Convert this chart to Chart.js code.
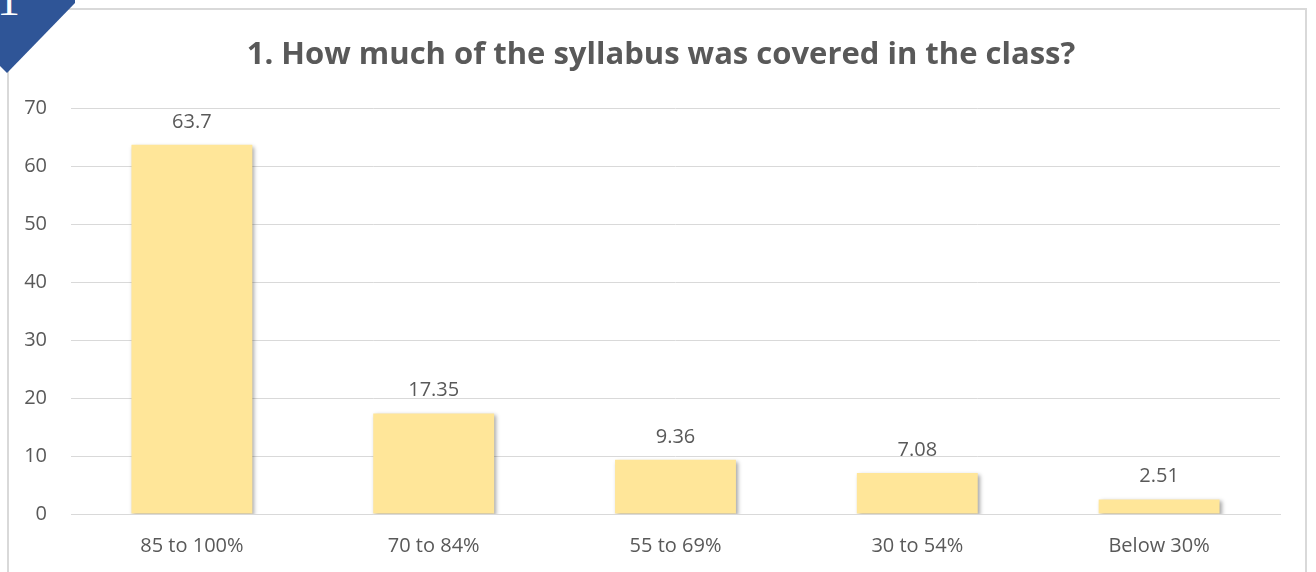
<!DOCTYPE html>
<html>
<head>
<meta charset="utf-8">
<script src="https://cdn.jsdelivr.net/npm/chart.js@4.4.1/dist/chart.umd.min.js"></script>
<style>
  html, body { margin: 0; padding: 0; background: #fff; }
  #wrap { position: relative; width: 1316px; height: 572px; overflow: hidden; }
  #frame { position: absolute; left: 7px; top: 8px; width: 1300px; height: 620px; border: 2px solid #d9d9d9; box-sizing: border-box; }
  #badge { position: absolute; left: 0; top: 0; width: 76px; height: 76px; background: #2f5597;
    clip-path: polygon(0 0, 75px 0, 75px 3px, 7px 73px, 0 66px); overflow: hidden; }
  #badge span { position: absolute; left: -3px; top: -23px; font: 46px/1 "Liberation Serif", serif; color: #fff; }
  canvas { position: absolute; left: 0; top: 0; }
</style>
</head>
<body>
<div id="wrap">
  <div id="frame"></div>
  <canvas id="chart" width="1316" height="572"></canvas>
  <div id="badge"><span>1</span></div>
</div>
<script>
const categories = ["85 to 100%", "70 to 84%", "55 to 69%", "30 to 54%", "Below 30%"];
const values = [63.7, 17.35, 9.36, 7.08, 2.51];
const valueLabels = ["63.7", "17.35", "9.36", "7.08", "2.51"];

const FONT = "'Open Sans', sans-serif";
const TEXT = "#595959";
const GRID = "#d9d9d9";

// soft shadow under the bars
const barShadow = {
  id: "barShadow",
  beforeDatasetsDraw(chart) {
    const ctx = chart.ctx;
    ctx.save();
    ctx.shadowColor = "rgba(0,0,0,0.35)";
    ctx.shadowBlur = 4;
    ctx.shadowOffsetX = 2;
    ctx.shadowOffsetY = 2;
  },
  afterDatasetsDraw(chart) {
    chart.ctx.restore();
  }
};

// value labels above bars
const valueLabelsPlugin = {
  id: "valueLabels",
  afterDatasetsDraw(chart) {
    const ctx = chart.ctx;
    const meta = chart.getDatasetMeta(0);
    ctx.save();
    ctx.font = "20px " + FONT;
    ctx.fillStyle = TEXT;
    ctx.textAlign = "center";
    ctx.textBaseline = "alphabetic";
    meta.data.forEach((bar, i) => {
      ctx.fillText(valueLabels[i], bar.x, bar.y - 17);
    });
    ctx.restore();
  }
};

new Chart(document.getElementById("chart"), {
  type: "bar",
  data: {
    labels: categories,
    datasets: [{
      data: values,
      backgroundColor: "#ffe699",
      borderWidth: 0,
      categoryPercentage: 1,
      barPercentage: 0.5
    }]
  },
  options: {
    responsive: false,
    animation: false,
    layout: { padding: { top: 21, left: 24, right: 18, bottom: 0 } },
    plugins: {
      legend: { display: false },
      tooltip: { enabled: false },
      title: {
        display: true,
        text: "1. How much of the syllabus was covered in the class?",
        color: TEXT,
        font: { family: FONT, size: 31, weight: "bold", lineHeight: 1.2 },
        padding: { top: 16, bottom: 34 }
      }
    },
    scales: {
      x: {
        afterFit: s => { s.height = 58; },
        grid: { display: false, drawTicks: false },
        border: { color: GRID, width: 1 },
        ticks: { color: TEXT, padding: 20, font: { family: FONT, size: 20 } }
      },
      y: {
        min: 0,
        max: 70,
        afterFit: s => { s.width = 47; },
        grid: { color: GRID, lineWidth: 1, drawTicks: false },
        border: { display: false },
        ticks: { stepSize: 10, color: TEXT, padding: 24, font: { family: FONT, size: 20 } }
      },
      // empty right-hand spacer so the title centres on the frame
      spacer: {
        position: "right",
        afterFit: s => { s.width = 18; },
        grid: { display: false, drawTicks: false },
        border: { display: false },
        ticks: { display: false }
      }
    }
  },
  plugins: [barShadow, valueLabelsPlugin]
});
</script>
</body>
</html>
